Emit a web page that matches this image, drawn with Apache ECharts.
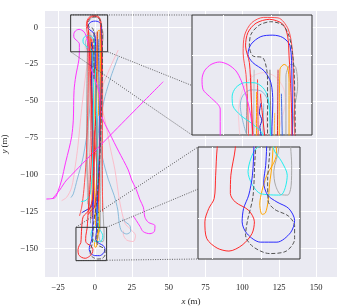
<!DOCTYPE html>
<html><head><meta charset="utf-8">
<script src="https://cdn.jsdelivr.net/npm/echarts@6/dist/echarts.min.js"></script>
<style>html,body{margin:0;padding:0;background:#fff}#c{width:349px;height:308px}</style>
</head><body><div id="c"></div>
<script>
// ---- axis ticks / ranges ----
const xTicks = [-25, 0, 25, 50, 75, 100, 125, 150];
const yTicks = [0, -25, -50, -75, -100, -125, -150];
const mainX = [-33.9, 164.2];
const mainY = [-169.4, 11.06];
const zoom1X = [-16.5, 8.6];
const zoom1Y = [-16.6, 8.4];
const zoom2X = [-12.9, 7.9];
const zoom2Y = [-158.3, -135.7];
const zoom1GridX = [-10, 0];
const zoom1GridY = [0, -10];
const zoom2GridX = [-10, 0];
const zoom2GridY = [-140, -150];
const link1Y = -6.3;     // where the 3rd connector meets inset 1 (data y)
const link2Y = -144.2;   // where the 3rd connector meets inset 2 (data y)

// ---- trajectories (x, y in metres) ----
const redA = [[2.5,-118],[3.2,-90],[3.8,-60],[4.3,-35],[4.4,-16.4],[4.2,-7.75],[3.8,-0.1],[3.5,4.0],[2.5,6.5],[-0.3,7.5],[-3.1,6.7],[-4.8,4.75],[-5.3,1.96],[-4.5,-1.5],[-4.15,-7.75],[-3.8,-16.4],[-3.2,-30],[-2.5,-50],[-2.0,-70],[-2.5,-90],[-3.5,-110],[-4.6,-125],[-5.3,-136],[-6.2,-141.4],[-6.3,-145.1],[-5.3,-146.8],[-2.55,-148.5],[-1.4,-150.8],[-1.9,-153.2],[-3.9,-155.5],[-6.6,-156.7],[-9,-156.1],[-11.1,-154.2],[-11.5,-150.8],[-10.7,-148.1],[-9.6,-146.1],[-9.3,-141.4],[-9,-136],[-8,-128.5],[-4,-124],[-1.5,-115],[-1,-95],[-0.5,-70]];
const redB = [[5.2,-125],[5.0,-90],[5.2,-50],[5.0,-16.4],[4.8,-6],[4.5,1],[3.6,5.5],[1.5,7.8],[-1.5,7.9],[-4,6.8],[-5.5,4.2],[-5.8,0.5],[-5.2,-4],[-4.8,-12],[-4.5,-30],[-5,-60],[-6,-90],[-7.5,-110],[-9,-122],[-10.5,-128]];
const redD = [[-4.5,-127],[-2.5,-124],[-0.5,-122.5],[0.8,-112],[1.2,-85],[0.8,-50],[-0.5,-25],[-1.8,-12],[-2.2,-8]];
const redE = [[1.5,-3],[1.2,-30],[0.5,-60],[-0.5,-90],[-1.2,-115],[-2,-130]];
const redF = [[-2.8,-5],[-2.5,-25],[-1.5,-55],[0.5,-85],[2,-105],[2.5,-125]];
const salmon = [[-4.2,-4],[-3.5,-35],[-3,-70],[-4,-100],[-4.5,-125]];
const blueA = [[0.3,-28],[0.2,-16.4],[0.4,-9.8],[0,-5.7],[-1.4,-3.25],[-3.8,-1.5],[-4.8,0.2],[-4.15,2.3],[-2.1,3.9],[0.4,4.2],[2.5,3.7],[4,2],[4.4,-4.3],[4.5,-16.4],[4.3,-40],[3.6,-70],[2.6,-100],[1.6,-120],[1.1,-135.7],[0.9,-139.4],[0.5,-142.8],[1.3,-145.4],[3.2,-146.8],[5.6,-148.1],[6.8,-150.5],[5.96,-153],[3.2,-154.9],[-0.17,-154.9],[-2.9,-153.2],[-3.9,-150.8],[-3.6,-148.1],[-2.55,-145.4],[-1.8,-141.4],[-1.5,-135.7],[-1.2,-120],[-0.8,-95]];
const blue3 = [[2.2,-8],[2.8,-40],[3.2,-80],[2,-110],[1,-128]];
const navy = [[-2.1,-10],[-2.4,-12],[-1.9,-13.5],[-2.3,-15],[-2.0,-17],[-2.2,-40],[-1.6,-80],[-1.0,-110],[-1.8,-119],[-2.2,-121.7],[-5,-123.5],[-9,-125.8]];
const dashedRef = [[-0.7,-35],[-0.7,-16.6],[-0.7,-5],[-1.6,-0.6],[-3.8,-0.1],[-4.5,2],[-4.15,4.4],[-2.4,6.3],[0,7],[2.5,6.3],[3.8,4],[4.5,0.6],[4.9,-4.3],[5.1,-16.6],[4.6,-50],[3.2,-90],[1.2,-118],[-0.8,-132],[-1.3,-138.5],[-1.7,-145.8],[-2.8,-150.5],[-3.2,-153.5],[-1.7,-155.8],[1.7,-157.2],[5.1,-156.7],[6.8,-154.3],[6.8,-151.6],[5.5,-149.6],[2.75,-148.3],[1.4,-146.6],[1.3,-142.5],[1.7,-137.1],[2.2,-128]];
const orangeA = [[2.5,-60],[1.9,-30],[1.75,-16.8],[1.9,-2.9],[2.8,-1.9],[3.5,-2.5],[3.8,-5.7],[3.8,-16.8],[3.5,-50],[3,-90],[2.6,-120],[3.1,-137.1],[1.1,-141.5],[0.16,-144.5],[-0.3,-147.2],[0.16,-149.3],[0.85,-149],[1.4,-146.6],[1.7,-143.2],[2.2,-139.1],[2.6,-130],[2.4,-110]];
const orangeB = [[-3,-7.6],[-3,-16.8],[-2.6,-40],[-1.5,-75],[-0.5,-105],[0.3,-128],[0.5,-135]];
const orangeC = [[0.8,-12],[0,-45],[-1,-80],[-2,-110],[-2.5,-128]];
const grayA = [[3.2,-30],[3.15,-16.6],[3.15,-4.3],[4.2,-1.85],[5.2,-2.5],[5.6,-6.4],[4.9,-11.2],[4.5,-16.6],[4.1,-50],[4.6,-90],[5.2,-118],[6,-135.7],[6.2,-139.4],[6.1,-143.4],[5.4,-145.4],[4.0,-145.3],[2.9,-143.4],[2.55,-140.7],[3.6,-135.7],[3.6,-115],[3.2,-80]];
const grayB = [[-5,-8],[-5.4,-40],[-5.6,-90],[-4.5,-112],[-3.2,-125],[-3,-133]];
const grayC = [[-3.5,-3],[-3.8,-30],[-4.5,-70],[-5.2,-100],[-5,-120]];
const grayD = [[-0.2,-3],[0.5,-40],[1.5,-80],[1,-115],[0,-130]];
const cyanA = [[-9.5,-118.2],[-6,-117.3],[-3,-112],[-1.6,-90],[-1.0,-50],[-1.2,-25],[-1.7,-16.6],[-3.8,-14.35],[-6.2,-12.6],[-7.96,-10.5],[-8.1,-8.5],[-7.3,-6.7],[-5.5,-5.7],[-3.5,-5.7],[-1.7,-6.7],[-0.7,-8.5],[-0.3,-11.2],[-0.1,-16.6],[0.6,-40],[1.4,-76],[1.6,-110],[2,-128],[2.5,-136],[4.2,-138.7],[5.3,-141.4],[3.9,-145.4],[-0.17,-145.1],[-2.7,-140.7],[-1.5,-136.6],[0.3,-135]];
const lblueA = [[-5.2,-16.2],[-6.4,-10.5],[-5.9,-8.45],[-4.15,-7.2],[-2.1,-7.4],[-0.7,-9.15],[-0.3,-11.2],[0,-20],[1,-50],[2.5,-72],[5,-88],[9,-103],[13,-114],[15.5,-124],[16.5,-133],[18.1,-138.4],[21.5,-140.2],[24.2,-138.4],[23.7,-134.6],[21,-132.3],[18.5,-130]];
const lblueB = [[-1.5,-10],[-2.5,-40],[-4.5,-65],[-8,-88],[-12,-103],[-14.7,-113],[-16.3,-115.5]];
const lblueC = [[15.8,-20],[11,-33],[6.8,-47],[4,-62],[2.5,-90],[2,-120],[1.5,-135]];
const pinkA = [[-1,-12],[1,-35],[4,-52],[6.8,-63],[10,-80],[13.6,-97],[17,-119.4],[20.4,-133],[23.7,-136.6],[27.5,-141.2],[26,-145.3],[21.5,-144.3],[19.2,-140.2],[19.2,-138]];
const pinkB = [[-2,-8],[-4,-18],[-6,-30],[-9,-55],[-11.5,-80],[-13.5,-95],[-15.8,-108.5],[-19.2,-115.3],[-22.6,-117.6]];
const pinkC = [[15.8,-15.4],[10,-28],[4.5,-42.5],[2.5,-60],[2,-90]];
const pinkD = [[-6.5,-16.6],[-6.8,-12],[-6,-7.5],[-4,-4.5],[-1.5,-3.6],[1,-4.5],[2.7,-7],[3,-10],[2.2,-13.5],[1.5,-17],[1,-40],[0,-80],[-1,-120],[-1.5,-140]];
const magentaL = [[-3.8,-16.4],[-4.1,-13.3],[-4.8,-9.8],[-5.5,-7.4],[-6.2,-5.3],[-7.3,-3.25],[-9,-1.9],[-10.75,-1.4],[-12.5,-1.9],[-13.9,-3.25],[-14.4,-5],[-14.2,-7.1],[-12.8,-8.6],[-11.1,-10.2],[-10.6,-11.2],[-10.6,-16.4],[-10.9,-22],[-13,-33],[-14.2,-43],[-14.7,-63],[-15.8,-74],[-17.5,-82],[-20,-92],[-22.6,-103.6],[-25,-111],[-27,-115.5],[-30,-116.3],[-33,-116.5]];
const magentaR = [[-3.8,-16.4],[-3.5,-25],[0,-35],[3,-45],[4.5,-60],[10,-72],[16,-84],[22.6,-96.8],[24.9,-103.6],[28,-110],[30.5,-117],[32.8,-122],[33.9,-128.9],[36.2,-132.3],[40.7,-134.6],[40.3,-138.5],[37.3,-140],[32.8,-138.7],[30.5,-135],[28,-131],[26,-128]];
const magentaD = [[-29,-116.5],[-24,-110.5],[-19.2,-103.6],[46.3,-36.9]];

// ---- styles (kept apart from data) ----
const tracks = [
  [pinkA, '#ffb3c0', 0.8, 'solid'], [pinkB, '#ffb3c0', 0.8, 'solid'], [pinkC, '#ffb3c0', 0.8, 'solid'], [pinkD, '#ffc0cb', 0.7, 'solid'],
  [lblueA, '#7fb6d8', 0.9, 'solid'], [lblueB, '#7fb6d8', 0.9, 'solid'], [lblueC, '#7fb6d8', 0.9, 'solid'],
  [grayB, '#8c8c8c', 0.9, 'solid'], [grayC, '#b4b4b4', 0.9, 'solid'], [grayD, '#777777', 0.9, 'solid'], [grayA, '#a8a8a8', 1, 'solid'],
  [salmon, '#f08080', 0.9, 'solid'], [orangeC, '#ffb347', 1, 'solid'], [orangeB, '#ffa500', 1, 'solid'], [orangeA, '#ffa500', 1, 'solid'],
  [redE, '#d62728', 1, 'solid'], [redF, '#ff4040', 1, 'solid'], [redD, '#ff2020', 1, 'solid'], [redB, '#ff5050', 1, 'solid'],
  [blue3, '#4169e1', 1, 'solid'], [navy, '#1a1acc', 1, 'solid'], [cyanA, '#22eeee', 1, 'solid'],
  [magentaL, '#ff33ff', 1, 'solid'], [magentaR, '#ff33ff', 1, 'solid'], [magentaD, '#ff33ff', 1, 'solid'],
  [blueA, '#2a2aff', 1, 'solid'], [redA, '#ff2a2a', 1, 'solid'], [dashedRef, '#555555', 1, 'dashed']
];

const FONT = 'Liberation Serif';
const fmt = v => (v < 0 ? '\u2212' + Math.abs(v) : String(v));
const chart = echarts.init(document.getElementById('c'), null, {renderer: 'canvas'});

function mainAxis(range, ticks, isX) {
  return {
    type: 'value', gridIndex: 0, min: range[0], max: range[1], z: 0,
    axisLine: {show: false},
    axisTick: {show: false, customValues: ticks},
    axisLabel: {customValues: ticks, formatter: fmt, fontFamily: FONT, fontSize: 8.5, color: '#262626', margin: isX ? 6 : 7},
    splitLine: {show: true, lineStyle: {color: '#ffffff', width: 1}},
    name: isX ? '{i|x} (m)' : '{i|y} (m)',
    nameLocation: 'middle', nameGap: isX ? 15 : 31,
    nameTextStyle: {fontFamily: FONT, fontSize: 9, color: '#262626', rich: {i: {fontFamily: FONT, fontSize: 9, fontStyle: 'italic', color: '#262626'}}}
  };
}
function insetAxis(g, range, grid) {
  return {
    type: 'value', gridIndex: g, min: range[0], max: range[1], z: 1,
    axisLine: {show: false},
    axisTick: {show: false, customValues: grid},
    axisLabel: {show: false, customValues: grid},
    splitLine: {show: true, lineStyle: {color: '#ffffff', width: 1}}
  };
}

const series = [];
[0, 1, 2].forEach(g => {
  tracks.forEach(t => {
    series.push({
      type: 'line', xAxisIndex: g, yAxisIndex: g, data: t[0],
      showSymbol: false, symbol: 'none', smooth: 0.3, clip: true, silent: true, animation: false, z: 3,
      lineStyle: {color: t[1], opacity: t[2], type: t[3], width: 1}
    });
  });
});

chart.setOption({
  animation: false,
  backgroundColor: '#ffffff',
  grid: [
    {left: 45, top: 11, width: 292, height: 266, show: true, backgroundColor: '#eaeaf2', borderWidth: 0, z: 0, containLabel: false, outerBoundsMode: 'none'},
    {left: 192, top: 15, width: 120, height: 120, show: true, backgroundColor: '#eaeaf2', borderColor: '#333333', borderWidth: 1, z: 1, containLabel: false, outerBoundsMode: 'none'},
    {left: 198, top: 147, width: 102, height: 112, show: true, backgroundColor: '#eaeaf2', borderColor: '#333333', borderWidth: 1, z: 1, containLabel: false, outerBoundsMode: 'none'}
  ],
  xAxis: [mainAxis(mainX, xTicks, true), insetAxis(1, zoom1X, zoom1GridX), insetAxis(2, zoom2X, zoom2GridX)],
  yAxis: [mainAxis(mainY, yTicks, false), insetAxis(1, zoom1Y, zoom1GridY), insetAxis(2, zoom2Y, zoom2GridY)],
  series: series
});

// source rectangles + connector lines, positioned from data ranges
const P = (g, pt) => chart.convertToPixel({gridIndex: g}, pt);
const graphics = [];
function rectFrom(xr, yr) {
  const a = P(0, [xr[0], yr[1]]), b = P(0, [xr[1], yr[0]]);
  graphics.push({type: 'rect', z: 20, silent: true, shape: {x: a[0], y: a[1], width: b[0] - a[0], height: b[1] - a[1]},
    style: {fill: 'none', stroke: '#333333', lineWidth: 1}});
}
function link(p, q) {
  graphics.push({type: 'line', z: 20, silent: true, shape: {x1: p[0], y1: p[1], x2: q[0], y2: q[1]},
    style: {stroke: '#3a3a3a', lineWidth: 0.8, lineDash: [1, 1.4]}});
}
rectFrom(zoom1X, zoom1Y);
rectFrom(zoom2X, zoom2Y);
link(P(0, [zoom1X[0], zoom1Y[1]]), P(1, [zoom1X[0], zoom1Y[1]]));
link(P(0, [zoom1X[0], zoom1Y[0]]), P(1, [zoom1X[0], zoom1Y[0]]));
link(P(0, [zoom1X[1], zoom1Y[0]]), P(1, [zoom1X[0], link1Y]));
link(P(0, [zoom2X[0], zoom2Y[1]]), P(2, [zoom2X[0], zoom2Y[1]]));
link(P(0, [zoom2X[1], zoom2Y[1]]), P(2, [zoom2X[0], link2Y]));
link(P(0, [zoom2X[0], zoom2Y[0]]), P(2, [zoom2X[0], zoom2Y[0]]));
chart.setOption({graphic: graphics});
</script></body></html>
